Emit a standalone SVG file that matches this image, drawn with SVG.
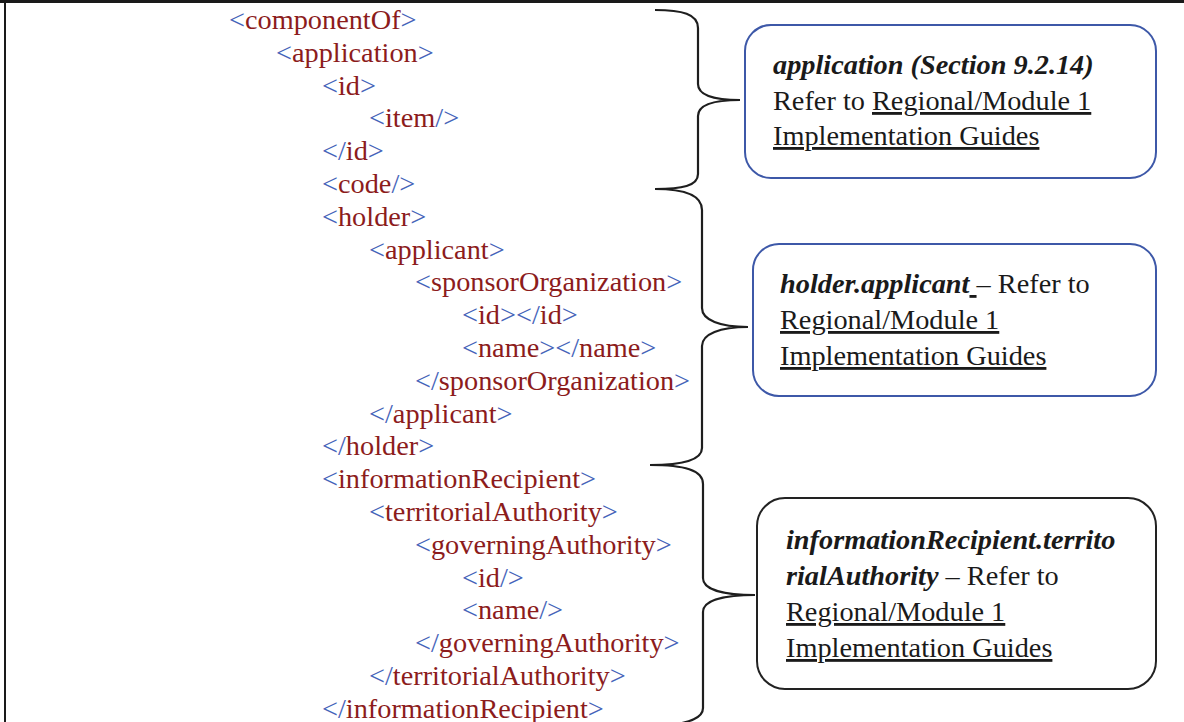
<svg xmlns="http://www.w3.org/2000/svg" width="1184" height="722" viewBox="0 0 1184 722">
<style>
.code{font-family:'Liberation Serif','DejaVu Serif',serif;font-size:28.3px;fill:#8c1c1c}
.b{fill:#4563b9}
.note{font-family:'Liberation Serif','DejaVu Serif',serif;font-size:28.3px;fill:#1a1a1a}
.bi{font-weight:bold;font-style:italic}
.u{text-decoration:underline}
.box{fill:#fff;stroke-width:2}
.brace{fill:none;stroke:#1e1e1e;stroke-width:2.2}
.frame{stroke:#1a1a1a;fill:none}
</style>
<rect x="0" y="0" width="1184" height="722" fill="#fff"/>
<g id="frame">
<line class="frame" x1="0" y1="1.5" x2="1184" y2="1.5" stroke-width="3"/>
<line class="frame" x1="5" y1="0" x2="5" y2="722" stroke-width="2"/>
</g>
<g id="xml-listing" class="code">
<text x="229" y="29"><tspan class="b">&lt;</tspan>componentOf<tspan class="b">&gt;</tspan></text>
<text x="276" y="62"><tspan class="b">&lt;</tspan>application<tspan class="b">&gt;</tspan></text>
<text x="322" y="95"><tspan class="b">&lt;</tspan>id<tspan class="b">&gt;</tspan></text>
<text x="369" y="127"><tspan class="b">&lt;</tspan>item<tspan class="b">/&gt;</tspan></text>
<text x="322" y="160"><tspan class="b">&lt;/</tspan>id<tspan class="b">&gt;</tspan></text>
<text x="322" y="193"><tspan class="b">&lt;</tspan>code<tspan class="b">/&gt;</tspan></text>
<text x="322" y="226"><tspan class="b">&lt;</tspan>holder<tspan class="b">&gt;</tspan></text>
<text x="369" y="259"><tspan class="b">&lt;</tspan>applicant<tspan class="b">&gt;</tspan></text>
<text x="415" y="291"><tspan class="b">&lt;</tspan>sponsorOrganization<tspan class="b">&gt;</tspan></text>
<text x="462" y="324"><tspan class="b">&lt;</tspan>id<tspan class="b">&gt;&lt;/</tspan>id<tspan class="b">&gt;</tspan></text>
<text x="462" y="357"><tspan class="b">&lt;</tspan>name<tspan class="b">&gt;&lt;/</tspan>name<tspan class="b">&gt;</tspan></text>
<text x="415" y="390"><tspan class="b">&lt;/</tspan>sponsorOrganization<tspan class="b">&gt;</tspan></text>
<text x="369" y="423"><tspan class="b">&lt;/</tspan>applicant<tspan class="b">&gt;</tspan></text>
<text x="322" y="455"><tspan class="b">&lt;/</tspan>holder<tspan class="b">&gt;</tspan></text>
<text x="322" y="488"><tspan class="b">&lt;</tspan>informationRecipient<tspan class="b">&gt;</tspan></text>
<text x="369" y="521"><tspan class="b">&lt;</tspan>territorialAuthority<tspan class="b">&gt;</tspan></text>
<text x="415" y="554"><tspan class="b">&lt;</tspan>governingAuthority<tspan class="b">&gt;</tspan></text>
<text x="462" y="587"><tspan class="b">&lt;</tspan>id<tspan class="b">/&gt;</tspan></text>
<text x="462" y="619"><tspan class="b">&lt;</tspan>name<tspan class="b">/&gt;</tspan></text>
<text x="415" y="652"><tspan class="b">&lt;/</tspan>governingAuthority<tspan class="b">&gt;</tspan></text>
<text x="369" y="685"><tspan class="b">&lt;/</tspan>territorialAuthority<tspan class="b">&gt;</tspan></text>
<text x="322" y="718"><tspan class="b">&lt;/</tspan>informationRecipient<tspan class="b">&gt;</tspan></text>
</g>
<g id="connectors">
<path class="brace" d="M655,10 C682,10 698,14 698,28 L698,84 C698,95 712,100 740,100 C712,100 698,105 698,116 L698,174 C698,186 682,189 655,189"/>
<path class="brace" d="M655,189 C684,189 702,195 702,210 L702,308 C702,320 720,327 748,327 C720,327 702,334 702,346 L702,448 C702,460 684,465 650,465"/>
<path class="brace" d="M650,465 C684,465 703,470 703,484 L703,578 C703,590 725,595 755,595 C725,595 703,600 703,612 L703,708 C703,718 690,722 668,726"/>
</g>
<g id="note-application">
<rect class="box" x="745" y="25" width="411" height="153" rx="26" stroke="#3d58a8"/>
<text class="note" x="773" y="74"><tspan class="bi">application (Section 9.2.14)</tspan></text>
<text class="note" x="773" y="110">Refer to <tspan class="u">Regional/Module 1</tspan></text>
<text class="note" x="773" y="145"><tspan class="u">Implementation Guides</tspan></text>
</g>
<g id="note-holder">
<rect class="box" x="753" y="244" width="403" height="152" rx="26" stroke="#3d58a8"/>
<text class="note" x="780" y="293" xml:space="preserve"><tspan class="bi">holder.applicant</tspan><tspan class="u"> </tspan>– Refer to</text>
<text class="note" x="780" y="329"><tspan class="u">Regional/Module 1</tspan></text>
<text class="note" x="780" y="365"><tspan class="u">Implementation Guides</tspan></text>
</g>
<g id="note-informationRecipient">
<rect class="box" x="757" y="498" width="399" height="191" rx="28" stroke="#222"/>
<text class="note" x="786" y="549"><tspan class="bi">informationRecipient.territo</tspan></text>
<text class="note" x="786" y="585" xml:space="preserve"><tspan class="bi">rialAuthority</tspan> – Refer to</text>
<text class="note" x="786" y="621"><tspan class="u">Regional/Module 1</tspan></text>
<text class="note" x="786" y="657"><tspan class="u">Implementation Guides</tspan></text>
</g>
</svg>
